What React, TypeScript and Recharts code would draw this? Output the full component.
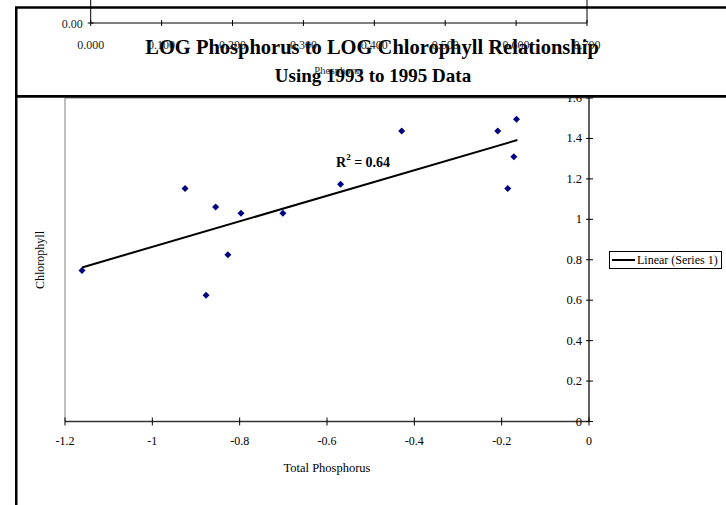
import React from 'react';
import { ScatterChart, Scatter, XAxis, YAxis, ReferenceArea, ReferenceLine, Legend } from 'recharts';

// LOG total phosphorus vs LOG chlorophyll, 1993-1995
const logPhosphorus = [-1.161, -0.925, -0.855, -0.797, -0.701, -0.827, -0.877, -0.569, -0.429, -0.209, -0.166, -0.172, -0.186];
const logChlorophyll = [0.747, 1.152, 1.061, 1.03, 1.03, 0.825, 0.624, 1.174, 1.437, 1.437, 1.495, 1.309, 1.152];

// linear trendline ends
const trendX = [-1.161, -0.164];
const trendY = [0.762, 1.392];

const xTicks = [-1.2, -1, -0.8, -0.6, -0.4, -0.2, 0];
const yTicks = [0, 0.2, 0.4, 0.6, 0.8, 1, 1.2, 1.4, 1.6];

// the chart behind, only its bottom edge shows
const oldXTicks = [0, 0.1, 0.2, 0.3, 0.4, 0.5, 0.6, 0.7];
const oldYTicks = [0];

const points = logPhosphorus.map((x, i) => ({ x, y: logChlorophyll[i] }));
const trend = trendX.map((x, i) => ({ x, y: trendY[i] }));

const serif = "'Liberation Serif', 'Times New Roman', serif";

const Diamond = (props: any) => {
  const { cx, cy } = props;
  const r = 3.5;
  return <polygon points={`${cx},${cy - r} ${cx + r},${cy} ${cx},${cy + r} ${cx - r},${cy}`} fill="#000080" />;
};

const XTick = (props: any) => {
  const { x, y, payload } = props;
  return (
    <g>
      <line x1={x} x2={x} y1={y - 4} y2={y + 4} stroke="#000" />
      <text x={x} y={y + 19} textAnchor="middle" dominantBaseline="central" fontSize={12} fontFamily={serif} fill="#000">
        {payload.value}
      </text>
    </g>
  );
};

const YTick = (props: any) => {
  const { x, y, payload } = props;
  return (
    <g>
      <line x1={x - 3} x2={x + 4} y1={y} y2={y} stroke="#000" />
      <text x={x - 7} y={y} textAnchor="end" dominantBaseline="central" fontSize={12.5} fontFamily={serif} fill="#000">
        {payload.value}
      </text>
    </g>
  );
};

const OldXTick = (props: any) => {
  const { x, y, payload } = props;
  return (
    <g>
      <line x1={x} x2={x} y1={y - 3} y2={y + 3} stroke="#000" />
      <text x={x} y={y + 22} textAnchor="middle" dominantBaseline="central" fontSize={12} fontFamily={serif} fill="#222">
        {payload.value.toFixed(3)}
      </text>
    </g>
  );
};

const OldYTick = (props: any) => {
  const { x, y, payload } = props;
  return (
    <g>
      <line x1={x - 3} x2={x + 3} y1={y} y2={y} stroke="#000" />
      <text x={x - 8} y={y + 1} textAnchor="end" dominantBaseline="central" fontSize={12} fontFamily={serif} fill="#222">
        {payload.value.toFixed(2)}
      </text>
    </g>
  );
};

const LegendBox = (props: any) => {
  const items = (props.payload || []).filter((p: any) => p.type !== 'none');
  return (
    <div style={{ border: '1px solid #000', background: '#fff', padding: '1px 3px 1px 2px', fontFamily: serif, fontSize: 12, lineHeight: '14px', color: '#000' }}>
      {items.map((p: any) => (
        <div key={p.value} style={{ display: 'flex', alignItems: 'center', whiteSpace: 'nowrap' }}>
          <span style={{ display: 'inline-block', width: 23, borderTop: '2px solid #000', marginRight: 2 }} />
          <span>{p.value}</span>
        </div>
      ))}
    </div>
  );
};

const App = () => {
  return (
    <div style={{ position: 'absolute', left: 0, top: 0, width: 726, height: 505, overflow: 'hidden', background: '#fff' }}>
      <div style={{ position: 'absolute', left: 0, top: 0 }}>
        <ScatterChart width={726} height={505} margin={{ top: 98, right: 127, bottom: 23.5, left: 65 }}>
          <ReferenceArea x1={-1.2} x2={0} y1={0} y2={1.6} fill="none" stroke="#808080" />
          <XAxis
            type="number"
            dataKey="x"
            domain={[-1.2, 0]}
            ticks={xTicks}
            allowDataOverflow
            height={60}
            tickSize={0}
            tickMargin={0}
            tickLine={false}
            axisLine={{ stroke: '#333', strokeWidth: 1.5 }}
            tick={<XTick />}
            label={{
              content: (p: any) => {
                const vb = p.viewBox || {};
                return (
                  <text x={vb.x + vb.width / 2} y={vb.y + 46.5} textAnchor="middle" dominantBaseline="central" fontSize={12.5} fontFamily={serif} fill="#000">
                    Total Phosphorus
                  </text>
                );
              },
            }}
          />
          <YAxis
            type="number"
            dataKey="y"
            orientation="right"
            domain={[0, 1.6]}
            ticks={yTicks}
            allowDataOverflow
            width={10}
            tickSize={0}
            tickMargin={0}
            tickLine={false}
            axisLine={{ stroke: '#000' }}
            tick={<YTick />}
          />
          <Scatter name="Series 1" data={points} shape={<Diamond />} legendType="none" isAnimationActive={false} />
          <Scatter
            name="Linear (Series 1)"
            data={trend}
            line={{ stroke: '#000', strokeWidth: 2 }}
            shape={() => <g />}
            legendType="line"
            isAnimationActive={false}
          />
          <Legend
            layout="vertical"
            align="center"
            verticalAlign="middle"
            content={<LegendBox />}
            wrapperStyle={{ left: 609, top: 251, width: 'auto' }}
          />
        </ScatterChart>
      </div>

      <svg width={726} height={505} style={{ position: 'absolute', left: 0, top: 0 }}>
        <rect x={16.25} y={96.25} width={800} height={500} fill="none" stroke="#000" strokeWidth={2.5} />
        <rect x={16.25} y={7.5} width={800} height={88.75} fill="#fff" stroke="#000" strokeWidth={2.5} />
        <text x={372} y={47} textAnchor="middle" dominantBaseline="central" fontSize={20.5} fontWeight="bold" fontFamily={serif} fill="#000">
          LOG Phosphorus to LOG Chlorophyll Relationship
        </text>
        <text x={373} y={75} textAnchor="middle" dominantBaseline="central" fontSize={19} fontWeight="bold" fontFamily={serif} fill="#000">
          Using 1993 to 1995 Data
        </text>
        <text x={336} y={162} dominantBaseline="central" fontSize={14} fontWeight="bold" fontFamily={serif} fill="#000">
          R<tspan dy={-5} fontSize={9}>2</tspan>
          <tspan dy={5}> = 0.64</tspan>
        </text>
        <text x={40} y={260} textAnchor="middle" dominantBaseline="central" fontSize={12} fontFamily={serif} fill="#000" transform="rotate(-90 40 260)">
          Chlorophyll
        </text>
      </svg>

      <div style={{ position: 'absolute', left: 0, top: -117 }}>
        <ScatterChart width={726} height={200} margin={{ top: 0, right: 139, bottom: 0, left: 30.7 }}>
          <XAxis
            type="number"
            dataKey="x"
            domain={[0, 0.7]}
            ticks={oldXTicks}
            allowDataOverflow
            height={60}
            tickSize={0}
            tickMargin={0}
            tickLine={false}
            axisLine={{ stroke: '#000' }}
            tick={<OldXTick />}
            label={{
              content: (p: any) => {
                const vb = p.viewBox || {};
                return (
                  <text x={vb.x + vb.width / 2} y={vb.y + 47} textAnchor="middle" dominantBaseline="central" fontSize={10.5} fontFamily={serif} fill="#222">
                    Phosphorus
                  </text>
                );
              },
            }}
          />
          <YAxis
            type="number"
            dataKey="y"
            domain={[0, 1]}
            ticks={oldYTicks}
            allowDataOverflow
            width={60}
            tickSize={0}
            tickMargin={0}
            tickLine={false}
            axisLine={{ stroke: '#000' }}
            tick={<OldYTick />}
          />
          <ReferenceLine x={0.7} stroke="#000" />
        </ScatterChart>
      </div>
    </div>
  );
};

export default App;
